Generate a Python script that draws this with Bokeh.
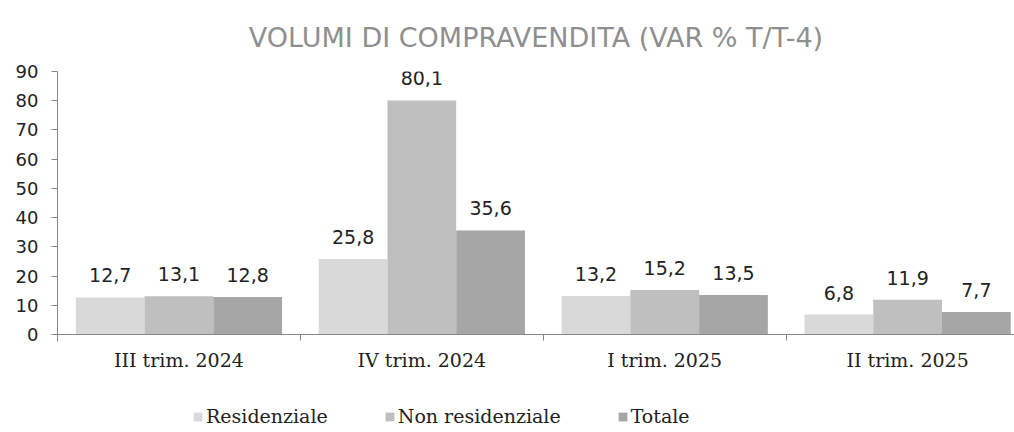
from bokeh.plotting import figure
from bokeh.models import Range1d, FixedTicker, Legend, LegendItem, ColumnDataSource
from bokeh.transform import dodge
from bokeh.core.properties import value
from bokeh.embed import file_html
from bokeh.resources import INLINE

categories = ["III trim. 2024", "IV trim. 2024", "I trim. 2025", "II trim. 2025"]
residenziale = [12.7, 25.8, 13.2, 6.8]
non_residenziale = [13.1, 80.1, 15.2, 11.9]
totale = [12.8, 35.6, 13.5, 7.7]
series_names = ["Residenziale", "Non residenziale", "Totale"]
colors = ["#d9d9d9", "#bfbfbf", "#a6a6a6"]
y_ticks = [0, 10, 20, 30, 40, 50, 60, 70, 80, 90]

def fmt(v):
    return f"{v:.1f}".replace(".", ",")

n = len(categories)
centers = [i + 0.5 for i in range(n)]
src = ColumnDataSource(dict(
    x=centers,
    res=residenziale, nres=non_residenziale, tot=totale,
    res_l=[fmt(v) for v in residenziale],
    nres_l=[fmt(v) for v in non_residenziale],
    tot_l=[fmt(v) for v in totale],
))

p = figure(width=1014, height=432, output_backend="svg", toolbar_location=None,
           x_range=Range1d(0, 3.94), y_range=Range1d(-33.54, 90),
           min_border_left=57, min_border_right=0, min_border_top=71, min_border_bottom=0)

p.title.text = "VOLUMI DI COMPRAVENDITA (VAR % T/T-4)"
p.title.text_font = "DejaVu Sans"
p.title.text_font_size = "27px"
p.title.text_font_style = "normal"
p.title.text_color = "#8f8f8f"
p.title.align = "center"
p.title.standoff = 38

bw = 0.283
offsets = [-bw, 0, bw]
fields = ["res", "nres", "tot"]
lfields = ["res_l", "nres_l", "tot_l"]
renderers = []
for off, f, lf, c in zip(offsets, fields, lfields, colors):
    r = p.vbar(x=dodge("x", off, range=p.x_range), top=f, width=bw, source=src,
               fill_color=c, line_color=None)
    renderers.append(r)
    p.text(x=dodge("x", off, range=p.x_range), y=f, text=lf, source=src,
           text_align="center", text_baseline="alphabetic", y_offset=-22,
           text_font=value("DejaVu Sans"), text_font_size="19px", text_color="#222222")

p.outline_line_color = None
p.xgrid.grid_line_color = None
p.ygrid.grid_line_color = None
p.background_fill_color = "white"
p.border_fill_color = "white"

axis_col = "#868686"
p.yaxis.ticker = FixedTicker(ticks=y_ticks)
p.yaxis.bounds = (-2.4, 90)
p.yaxis.axis_line_color = axis_col
p.yaxis.major_tick_line_color = axis_col
p.yaxis.major_tick_out = 6
p.yaxis.major_tick_in = 0
p.yaxis.minor_tick_line_color = None
p.yaxis.major_label_text_font = "DejaVu Sans"
p.yaxis.major_label_text_font_size = "18px"
p.yaxis.major_label_text_color = "#222222"
p.yaxis.major_label_standoff = 13

p.xaxis.fixed_location = 0
p.xaxis.ticker = FixedTicker(ticks=centers, minor_ticks=[0, 1, 2, 3])
p.xaxis.major_label_overrides = {c: lab for c, lab in zip(centers, categories)}
p.xaxis.axis_line_color = axis_col
p.xaxis.major_tick_line_color = None
p.xaxis.major_tick_out = 0
p.xaxis.major_tick_in = 0
p.xaxis.minor_tick_line_color = axis_col
p.xaxis.minor_tick_out = 6
p.xaxis.minor_tick_in = 0
p.xaxis.major_label_text_font = "DejaVu Serif"
p.xaxis.major_label_text_font_size = "19px"
p.xaxis.major_label_text_color = "#222222"
p.xaxis.major_label_standoff = 9

legend = Legend(items=[LegendItem(label=nm, renderers=[r]) for nm, r in zip(series_names, renderers)],
                orientation="horizontal", location=(135, 5),
                glyph_width=11, glyph_height=11, label_standoff=3, spacing=56,
                label_text_font="DejaVu Serif", label_text_font_size="19px",
                label_text_color="#222222", border_line_color=None,
                background_fill_alpha=0, padding=0, margin=0)
p.add_layout(legend, "center")

open("out.html", "w").write(file_html(p, INLINE))
